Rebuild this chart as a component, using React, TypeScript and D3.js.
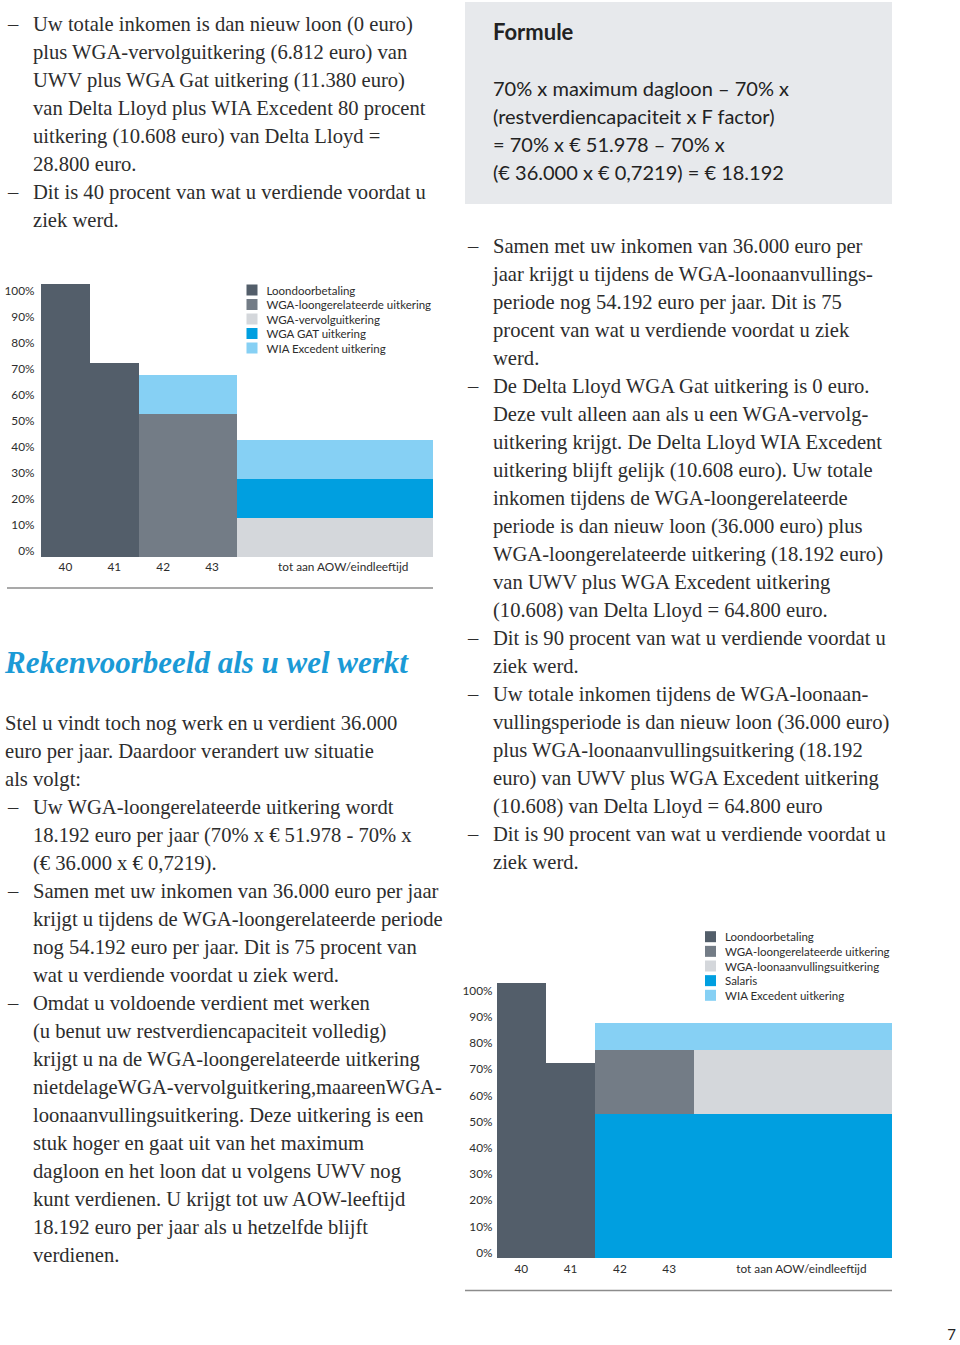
import React from "react";
import * as d3 from "d3";

// ---------- DATA ----------
const xCategories = ["40", "41", "42", "43", "tot aan AOW/eindleeftijd"];
const xSpans = [1, 1, 1, 1, 4];
const yTicks = [0, 10, 20, 30, 40, 50, 60, 70, 80, 90, 100];

// Chart 1 (niet werken)
const c1Names = [
  "Loondoorbetaling",
  "WGA-loongerelateerde uitkering",
  "WGA-vervolguitkering",
  "WGA GAT uitkering",
  "WIA Excedent uitkering",
];
const c1Loondoorbetaling = [105, 74.5, 0, 0, 0];
const c1Loongerelateerd = [0, 0, 54.7, 54.7, 0];
const c1Vervolg = [0, 0, 0, 0, 15];
const c1Gat = [0, 0, 0, 0, 15];
const c1Excedent = [0, 0, 15, 15, 15];

// Chart 2 (wel werken)
const c2Names = [
  "Loondoorbetaling",
  "WGA-loongerelateerde uitkering",
  "WGA-loonaanvullingsuitkering",
  "Salaris",
  "WIA Excedent uitkering",
];
const c2Loondoorbetaling = [105.2, 74.7, 0, 0, 0];
const c2Loongerelateerd = [0, 0, 24.5, 24.5, 0];
const c2Loonaanvulling = [0, 0, 0, 0, 24.5];
const c2Salaris = [0, 0, 55, 55, 55];
const c2Excedent = [0, 0, 10.3, 10.3, 10.3];

// ---------- TEXT ----------
const topLeftLines = [
  { dash: true, t: "Uw totale inkomen is dan nieuw loon (0 euro)" },
  { dash: false, t: "plus WGA-vervolguitkering (6.812 euro) van" },
  { dash: false, t: "UWV plus WGA Gat uitkering (11.380 euro)" },
  { dash: false, t: "van Delta Lloyd plus WIA Excedent 80 procent" },
  { dash: false, t: "uitkering (10.608 euro) van Delta Lloyd =" },
  { dash: false, t: "28.800 euro." },
  { dash: true, t: "Dit is 40 procent van wat u verdiende voordat u" },
  { dash: false, t: "ziek werd." },
];

const introLines = [
  "Stel u vindt toch nog werk en u verdient 36.000",
  "euro per jaar. Daardoor verandert uw situatie",
  "als volgt:",
];

const leftBullets = [
  { dash: true, t: "Uw WGA-loongerelateerde uitkering wordt" },
  { dash: false, t: "18.192 euro per jaar (70% x € 51.978 - 70% x" },
  { dash: false, t: "(€ 36.000 x € 0,7219)." },
  { dash: true, t: "Samen met uw inkomen van 36.000 euro per jaar" },
  { dash: false, t: "krijgt u tijdens de WGA-loongerelateerde periode" },
  { dash: false, t: "nog 54.192 euro per jaar. Dit is 75 procent van" },
  { dash: false, t: "wat u verdiende voordat u ziek werd." },
  { dash: true, t: "Omdat u voldoende verdient met werken" },
  { dash: false, t: "(u benut uw restverdiencapaciteit volledig)" },
  { dash: false, t: "krijgt u na de WGA-loongerelateerde uitkering" },
  { dash: false, t: "nietdelageWGA-vervolguitkering,maareenWGA-" },
  { dash: false, t: "loonaanvullingsuitkering. Deze uitkering is een" },
  { dash: false, t: "stuk hoger en gaat uit van het maximum" },
  { dash: false, t: "dagloon en het loon dat u volgens UWV nog" },
  { dash: false, t: "kunt verdienen. U krijgt tot uw AOW-leeftijd" },
  { dash: false, t: "18.192 euro per jaar als u hetzelfde blijft" },
  { dash: false, t: "verdienen." },
];

const formulaLines = [
  "70% x maximum dagloon – 70% x",
  "(restverdiencapaciteit x F factor)",
  "= 70% x € 51.978 – 70% x",
  "(€ 36.000 x € 0,7219) = € 18.192",
];

const rightBullets = [
  { dash: true, t: "Samen met uw inkomen van 36.000 euro per" },
  { dash: false, t: "jaar krijgt u tijdens de WGA-loonaanvullings-" },
  { dash: false, t: "periode nog 54.192 euro per jaar. Dit is 75" },
  { dash: false, t: "procent van wat u verdiende voordat u ziek" },
  { dash: false, t: "werd." },
  { dash: true, t: "De Delta Lloyd WGA Gat uitkering is 0 euro." },
  { dash: false, t: "Deze vult alleen aan als u een WGA-vervolg-" },
  { dash: false, t: "uitkering krijgt. De Delta Lloyd WIA Excedent" },
  { dash: false, t: "uitkering blijft gelijk (10.608 euro). Uw totale" },
  { dash: false, t: "inkomen tijdens de WGA-loongerelateerde" },
  { dash: false, t: "periode is dan nieuw loon (36.000 euro) plus" },
  { dash: false, t: "WGA-loongerelateerde uitkering (18.192 euro)" },
  { dash: false, t: "van UWV plus WGA Excedent uitkering" },
  { dash: false, t: "(10.608) van Delta Lloyd = 64.800 euro." },
  { dash: true, t: "Dit is 90 procent van wat u verdiende voordat u" },
  { dash: false, t: "ziek werd." },
  { dash: true, t: "Uw totale inkomen tijdens de WGA-loonaan-" },
  { dash: false, t: "vullingsperiode is dan nieuw loon (36.000 euro)" },
  { dash: false, t: "plus WGA-loonaanvullingsuitkering (18.192" },
  { dash: false, t: "euro) van UWV plus WGA Excedent uitkering" },
  { dash: false, t: "(10.608) van Delta Lloyd = 64.800 euro" },
  { dash: true, t: "Dit is 90 procent van wat u verdiende voordat u" },
  { dash: false, t: "ziek werd." },
];

// ---------- STYLE ----------
const COL_LOON = "#535e6a";
const COL_LOONGER = "#737c86";
const COL_LIGHTGRAY = "#d4d7db";
const COL_BLUE = "#009fe0";
const COL_LIGHTBLUE = "#86d0f4";
const TEXT = "#2d2d2d";
const SERIF = "'Liberation Serif', 'Times New Roman', serif";
const SANS = "Lato, 'Open Sans', sans-serif";
const BODY_SIZE = 20.6;

type Series = { name: string; values: number[]; color: string };

type ChartProps = {
  legend: Series[];
  stackOrder: Series[];
  x0: number;
  x1: number;
  yBase: number;
  pxPerPct: number;
  tickRight: number;
  xLabelY: number;
  legendX: number;
  legendY: number;
  legendStep: number;
  sepY: number;
  sepX0: number;
};

function StepChart(p: ChartProps) {
  const total = d3.sum(xSpans);
  const x = d3.scaleLinear().domain([0, total]).range([p.x0, p.x1]);
  const y = d3.scaleLinear().domain([0, 100]).range([p.yBase, p.yBase - 100 * p.pxPerPct]);
  const starts = xSpans.map((_, i) => d3.sum(xSpans.slice(0, i)));

  const rects: React.ReactNode[] = [];
  xCategories.forEach((_, ci) => {
    let acc = 0;
    p.stackOrder.forEach((s, si) => {
      const v = s.values[ci];
      if (v > 0) {
        rects.push(
          <rect
            key={`${ci}-${si}`}
            x={x(starts[ci])}
            width={x(starts[ci] + xSpans[ci]) - x(starts[ci]) + 0.5}
            y={y(acc + v)}
            height={y(acc) - y(acc + v)}
            fill={s.color}
          />
        );
      }
      acc += v;
    });
  });

  return (
    <g>
      <g shapeRendering="crispEdges">{rects}</g>
      {yTicks.map((t) => (
        <text
          key={t}
          x={p.tickRight}
          y={y(t) - 6}
          textAnchor="end"
          dominantBaseline="central"
          fontFamily={SANS}
          fontSize={11.8}
          fill={TEXT}
        >
          {d3.format("d")(t)}%
        </text>
      ))}
      {xCategories.map((c, i) => {
        const cx = (x(starts[i]) + x(starts[i] + xSpans[i])) / 2 + (xSpans[i] > 1 ? 9 : 0);
        return (
          <text
            key={c}
            x={cx}
            y={p.xLabelY}
            textAnchor="middle"
            dominantBaseline="central"
            fontFamily={SANS}
            fontSize={11.8}
            fill={TEXT}
          >
            {c}
          </text>
        );
      })}
      {p.legend.map((s, i) => (
        <g key={s.name} transform={`translate(${p.legendX},${p.legendY + i * p.legendStep})`}>
          <rect x={0} y={-5.5} width={11} height={11} fill={s.color} />
          <text x={20} y={0} dominantBaseline="central" fontFamily={SANS} fontSize={11.5} fill={TEXT}>
            {s.name}
          </text>
        </g>
      ))}
      <line x1={p.sepX0} x2={p.x1 + 1} y1={p.sepY} y2={p.sepY} stroke="#8c8c8c" strokeWidth={1.5} />
    </g>
  );
}

function Lines({ lines, x, dashX, y0, step, size }: { lines: { dash: boolean; t: string }[]; x: number; dashX: number; y0: number; step: number; size: number }) {
  return (
    <g fontFamily={SERIF} fontSize={size} fill={TEXT}>
      {lines.map((l, i) => (
        <g key={i}>
          {l.dash && (
            <text x={dashX} y={y0 + i * step}>
              –
            </text>
          )}
          <text x={x} y={y0 + i * step}>
            {l.t}
          </text>
        </g>
      ))}
    </g>
  );
}

export default function App() {
  const c1Legend: Series[] = [
    { name: c1Names[0], values: c1Loondoorbetaling, color: COL_LOON },
    { name: c1Names[1], values: c1Loongerelateerd, color: COL_LOONGER },
    { name: c1Names[2], values: c1Vervolg, color: COL_LIGHTGRAY },
    { name: c1Names[3], values: c1Gat, color: COL_BLUE },
    { name: c1Names[4], values: c1Excedent, color: COL_LIGHTBLUE },
  ];
  const c2Legend: Series[] = [
    { name: c2Names[0], values: c2Loondoorbetaling, color: COL_LOON },
    { name: c2Names[1], values: c2Loongerelateerd, color: COL_LOONGER },
    { name: c2Names[2], values: c2Loonaanvulling, color: COL_LIGHTGRAY },
    { name: c2Names[3], values: c2Salaris, color: COL_BLUE },
    { name: c2Names[4], values: c2Excedent, color: COL_LIGHTBLUE },
  ];
  const c2Stack = [c2Legend[0], c2Legend[3], c2Legend[1], c2Legend[2], c2Legend[4]];

  return (
    <div style={{ position: "absolute", left: 0, top: 0 }}>
      <svg width={960} height={1345} style={{ display: "block", background: "#fff" }}>
        {/* Left column top text */}
        <Lines lines={topLeftLines} x={33} dashX={8} y0={30.5} step={28} size={BODY_SIZE} />

        <StepChart
          legend={c1Legend}
          stackOrder={c1Legend}
          x0={41}
          x1={432}
          yBase={556.7}
          pxPerPct={2.6}
          tickRight={34.5}
          xLabelY={566.7}
          legendX={246.5}
          legendY={290}
          legendStep={14.5}
          sepY={588}
          sepX0={7}
        />

        <text x={5} y={673} fontFamily={SERIF} fontSize={31} fontWeight="bold" fontStyle="italic" fill="#1b9ad6">
          Rekenvoorbeeld als u wel werkt
        </text>

        <g fontFamily={SERIF} fontSize={BODY_SIZE} fill={TEXT}>
          {introLines.map((t, i) => (
            <text key={i} x={5} y={730 + i * 28}>
              {t}
            </text>
          ))}
        </g>
        <Lines lines={leftBullets} x={33} dashX={8} y0={814} step={28} size={BODY_SIZE} />

        {/* Right column */}
        <rect x={465} y={2} width={427} height={202} fill="#e7e9ec" />
        <text x={493} y={40} fontFamily={SANS} fontSize={22} fontWeight="bold" fill="#222">
          Formule
        </text>
        <g fontFamily={SANS} fontSize={20} fill="#222">
          {formulaLines.map((t, i) => (
            <text key={i} x={493} y={96 + i * 28}>
              {t}
            </text>
          ))}
        </g>

        <Lines lines={rightBullets} x={493} dashX={468} y0={253.3} step={28} size={BODY_SIZE} />

        <StepChart
          legend={c2Legend}
          stackOrder={c2Stack}
          x0={496.7}
          x1={891}
          yBase={1258.3}
          pxPerPct={2.62}
          tickRight={492.5}
          xLabelY={1268.3}
          legendX={705}
          legendY={936.7}
          legendStep={14.65}
          sepY={1290.5}
          sepX0={465}
        />

        <text x={956} y={1340} textAnchor="end" fontFamily={SANS} fontSize={15} fill="#222">
          7
        </text>
      </svg>
    </div>
  );
}
